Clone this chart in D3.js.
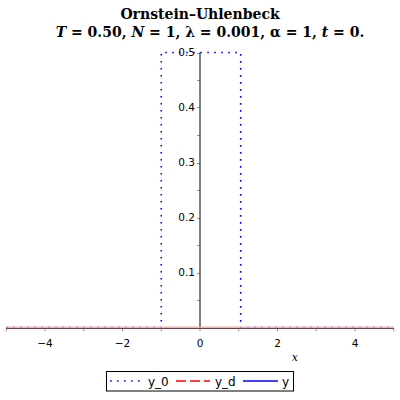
<!DOCTYPE html>
<html lang="en">
<head>
<meta charset="utf-8">
<script src="https://d3js.org/d3.v7.min.js"></script>
<style>
body { margin: 0; background: #fff; }
svg { display: block; }
</style>
</head>
<body>
<div id="chart"></div>
<script>
// data
var xPulse = [-5, -1, -1, 1.05, 1.05, 5];
var yPulse = [0, 0, 0.5, 0.5, 0, 0];
var xDrift = [-5, 5];
var yDrift = [0, 0];
var xTicks = [-4, -2, 0, 2, 4];
var xMinor = [-5, -4, -3, -2, -1, 0, 1, 2, 3, 4, 5];
var yTicks = [0.1, 0.2, 0.3, 0.4, 0.5];
var yMinor = [0.05, 0.1, 0.15, 0.2, 0.25, 0.3, 0.35, 0.4, 0.45, 0.5];
var legendNames = ["y_0", "y_d", "y"];

var W = 400, H = 400;

var svg = d3.select("#chart").append("svg")
    .attr("width", W)
    .attr("height", H);

var x = d3.scaleLinear().domain([-5, 5]).range([6.25, 393.75]);
var y = d3.scaleLinear().domain([0, 0.5]).range([327.5, 52.5]);

// title
var title = svg.append("text")
    .attr("x", 200)
    .attr("text-anchor", "middle")
    .style("font-family", "DejaVu Serif")
    .style("font-weight", "bold")
    .style("font-size", "14px");
title.append("tspan").attr("x", 200).attr("y", 19).text("Ornstein\u2013Uhlenbeck");
var l2 = title.append("tspan").attr("x", 210).attr("y", 37);
l2.append("tspan").style("font-style", "italic").text("T");
l2.append("tspan").text(" = 0.50, ");
l2.append("tspan").style("font-style", "italic").text("N");
l2.append("tspan").text(" = 1, \u03bb = 0.001, \u03b1 = 1, ");
l2.append("tspan").style("font-style", "italic").text("t");
l2.append("tspan").text(" = 0.");

// x ticks
svg.append("g").selectAll("line")
    .data(xMinor)
    .enter().append("line")
    .attr("x1", function(d) { return x(d); })
    .attr("x2", function(d) { return x(d); })
    .attr("y1", y(0) + 1)
    .attr("y2", y(0) + 4)
    .attr("stroke", "#999")
    .attr("stroke-width", 1);

svg.append("g").selectAll("text")
    .data(xTicks)
    .enter().append("text")
    .attr("x", function(d) { return x(d); })
    .attr("y", 347)
    .attr("text-anchor", "middle")
    .style("font-family", "DejaVu Sans")
    .style("font-size", "10.5px")
    .text(function(d) { return d < 0 ? "\u2212" + Math.abs(d) : d; });

// y ticks
svg.append("g").selectAll("line")
    .data(yMinor)
    .enter().append("line")
    .attr("x1", x(0) - 3)
    .attr("x2", x(0))
    .attr("y1", function(d) { return Math.round(y(d)) + 0.5; })
    .attr("y2", function(d) { return Math.round(y(d)) + 0.5; })
    .attr("stroke", "#999")
    .attr("stroke-width", 1);

svg.append("g").selectAll("text")
    .data(yTicks)
    .enter().append("text")
    .attr("x", x(0) - 5)
    .attr("y", function(d) { return y(d); })
    .attr("dy", "0.35em")
    .attr("text-anchor", "end")
    .style("font-family", "DejaVu Sans")
    .style("font-size", "10.5px")
    .text(function(d) { return d; });

// axis lines
svg.append("line")
    .attr("x1", x(-5)).attr("x2", x(5))
    .attr("y1", y(0) + 1).attr("y2", y(0) + 1)
    .attr("stroke", "#000").attr("stroke-width", 1);
svg.append("line")
    .attr("x1", x(0)).attr("x2", x(0))
    .attr("y1", y(0) + 1).attr("y2", y(0.5))
    .attr("stroke", "#000").attr("stroke-width", 1);

svg.append("text")
    .attr("x", x(2.45))
    .attr("y", 361)
    .attr("text-anchor", "middle")
    .style("font-family", "DejaVu Serif")
    .style("font-style", "italic")
    .style("font-size", "11px")
    .text("x");

// curves
var line = d3.line()
    .x(function(d) { return x(d[0]); })
    .y(function(d) { return y(d[1]); });

svg.append("path")
    .datum(d3.zip(xPulse, yPulse))
    .attr("d", line)
    .attr("fill", "none")
    .attr("stroke", "#0000ff")
    .attr("stroke-width", 1.6)
    .attr("stroke-dasharray", "1.6,5.4");

svg.append("path")
    .datum(d3.zip(xDrift, yDrift))
    .attr("d", line)
    .attr("fill", "none")
    .attr("stroke", "#f4a4a4")
    .attr("stroke-opacity", 0.85)
    .attr("stroke-width", 1.8);

// legend
var lg = svg.append("g");
lg.append("rect")
    .attr("x", 106.5).attr("y", 371.5)
    .attr("width", 187).attr("height", 19.5)
    .attr("fill", "#fff")
    .attr("stroke", "#000");

var sample = [
    { x1: 110, x2: 140, stroke: "#0000ff", dash: "1.6,5.4", tx: 148 },
    { x1: 176, x2: 210, stroke: "#ff0000", dash: "10,4", tx: 215 },
    { x1: 243, x2: 278, stroke: "#0000ff", dash: null, tx: 282 }
];
lg.selectAll(".sample")
    .data(sample)
    .enter().append("line")
    .attr("class", "sample")
    .attr("x1", function(d) { return d.x1; })
    .attr("x2", function(d) { return d.x2; })
    .attr("y1", 381).attr("y2", 381)
    .attr("stroke", function(d) { return d.stroke; })
    .attr("stroke-width", 1.6)
    .attr("stroke-dasharray", function(d) { return d.dash; });

lg.selectAll(".lab")
    .data(legendNames)
    .enter().append("text")
    .attr("class", "lab")
    .attr("x", function(d, i) { return sample[i].tx; })
    .attr("y", 386)
    .style("font-family", "DejaVu Sans")
    .style("font-size", "12px")
    .text(function(d) { return d; });
</script>
</body>
</html>
